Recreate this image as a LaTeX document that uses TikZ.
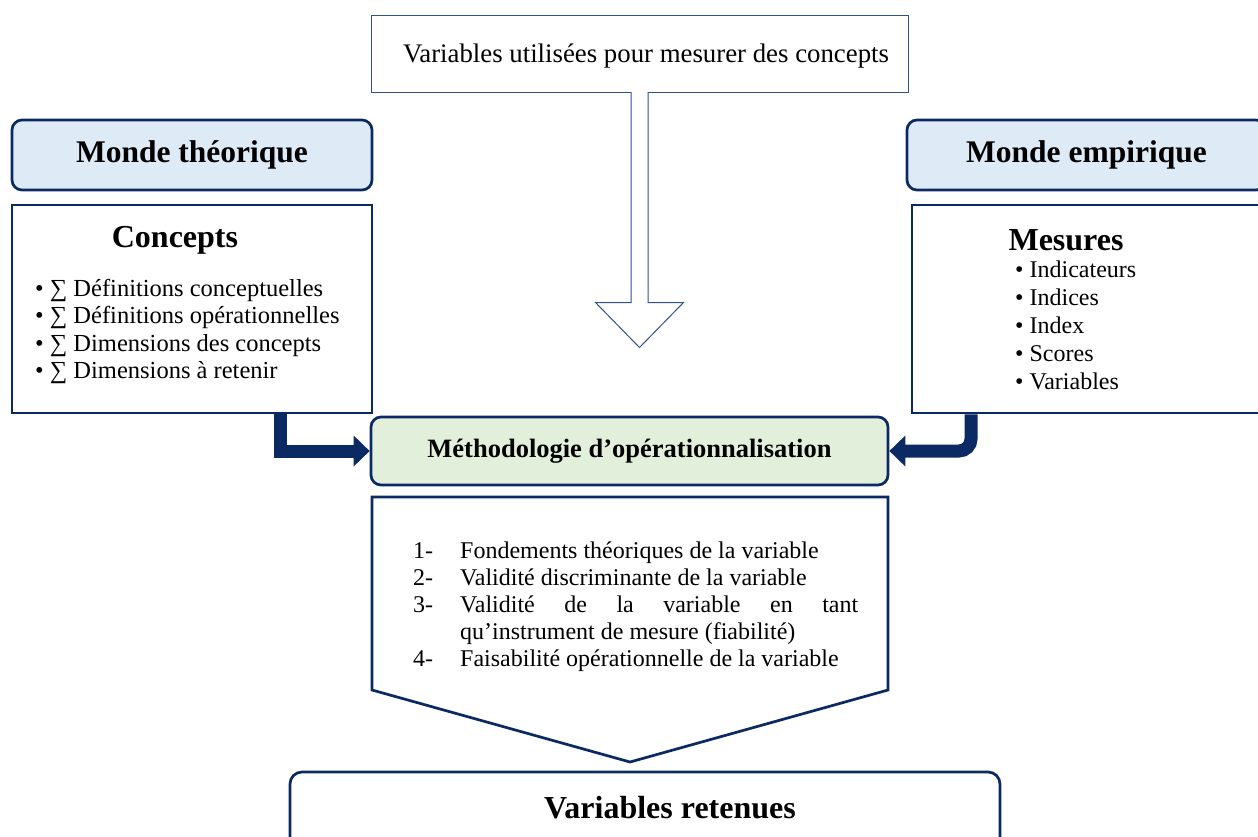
\documentclass[tikz,border=0pt]{standalone}
\usepackage{fontspec}
\setmainfont{Liberation Serif}
\usetikzlibrary{arrows.meta,positioning}
\definecolor{bleunuit}{HTML}{0B2A63}
\definecolor{bleutrait}{HTML}{2F528F}
\definecolor{bleuclair}{HTML}{DEEAF6}
\definecolor{vertclair}{HTML}{E2EFDA}
\tikzset{
  monde/.style={rectangle,rounded corners=10pt,draw=bleunuit,line width=2.7pt,fill=bleuclair,inner sep=0pt,font=\fontsize{31.5}{36}\selectfont\bfseries},
  cadre/.style={rectangle,draw=bleunuit,line width=2.7pt,fill=white,inner sep=0pt},
  titre/.style={inner sep=0pt,font=\fontsize{32}{36}\selectfont\bfseries},
  liste/.style={inner sep=0pt,align=left,font=\fontsize{24.5}{27.4}\selectfont},
  grosfleche/.style={draw=bleunuit,line width=13pt,-{Triangle[length=16pt,width=30pt]}}
}
\begin{document}
\begin{tikzpicture}[x=1pt,y=-1pt]
  \useasboundingbox (0,0) rectangle (1258,836);
  % boite du haut et fleche creuse
  \node[rectangle,draw=bleutrait,line width=1pt,minimum width=537,minimum height=77,inner sep=0pt] (varbox) at (639.5,53.5) {};
  \node[inner sep=0pt,font=\fontsize{26.8}{30}\selectfont] (vartxt) at (646,56) {Variables utilisées pour mesurer des concepts};
  \draw[bleutrait,line width=1pt,fill=white] ([xshift=-8.5pt,yshift=0.7pt]varbox.south) -- ++(0,210.7) -- ++(-35.5,0) -- ++(44,45) -- ++(44,-45) -- ++(-35.5,0) -- ++(0,-210.7);
  % monde theorique
  \node[monde,minimum width=360,minimum height=70] (theo) at (192,155) {Monde théorique};
  \node[cadre,minimum width=360,minimum height=208] (concepts) at (192,309) {};
  \node[titre] (conceptstxt) at (175,240) {Concepts};
  \node[liste,anchor=north west] (conceptsliste) at (35,279) {\textbullet\ ∑ Définitions conceptuelles\\
    \textbullet\ ∑ Définitions opérationnelles\\
    \textbullet\ ∑ Dimensions des concepts\\
    \textbullet\ ∑ Dimensions à retenir};
  % monde empirique
  \node[monde,minimum width=359,minimum height=70] (emp) at (1086.5,155) {Monde empirique};
  \node[cadre,minimum width=358,minimum height=208] (mesures) at (1091,309) {};
  \node[titre] (mesurestxt) at (1066,240) {Mesures};
  \node[liste,anchor=north west,font=\fontsize{24}{28}\selectfont] (mesuresliste) at (1015,261) {\textbullet\ Indicateurs\\
    \textbullet\ Indices\\
    \textbullet\ Index\\
    \textbullet\ Scores\\
    \textbullet\ Variables};
  % methodologie
  \node[rectangle,rounded corners=10pt,draw=bleunuit,line width=2.7pt,fill=vertclair,minimum width=517,minimum height=68,inner sep=0pt,font=\fontsize{26.5}{30}\selectfont\bfseries] (methodo) at (629.5,451) {Méthodologie d’opérationnalisation};
  \draw[grosfleche] ([xshift=88pt]concepts.south) |- (methodo.west);
  \draw[grosfleche,rounded corners=12pt] ([xshift=-120pt]mesures.south) |- (methodo.east);
  % criteres
  \draw[bleunuit,line width=2.7pt,fill=white] (372,497) -- (888,497) -- (888,690) -- (630,762) -- (372,690) -- cycle;
  \node[inner sep=0pt,anchor=north west,font=\fontsize{24}{27}\selectfont] (criteres) at (413,539) {%
    \begin{tabular}{@{}p{47pt}@{}p{398pt}@{}}
    1- & Fondements théoriques de la variable\\
    2- & Validité discriminante de la variable\\
    3- & Validité de la variable en tant\linebreak qu’instrument de mesure (fiabilité)\\
    4- & Faisabilité opérationnelle de la variable
    \end{tabular}};
  % variables retenues
  \node[rectangle,rounded corners=12pt,draw=bleunuit,line width=2.7pt,minimum width=710,minimum height=78,inner sep=0pt] (retenues) at (645,811) {};
  \node[titre] (retenuestxt) at (670,808) {Variables retenues};
\end{tikzpicture}
\end{document}
